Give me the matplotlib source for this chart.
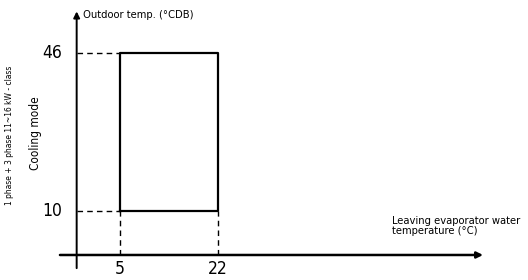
import matplotlib.pyplot as plt

plt.rcParams['font.family'] = ['DejaVu Sans']
plt.rcParams['font.stretch'] = 'condensed'

# operating range (cooling mode)
water_range = [5, 22]      # leaving evaporator water temp, °C
outdoor_range = [10, 46]   # outdoor temp, °CDB
x_ticks = [5, 22]
y_ticks = [10, 46]

fig = plt.figure(figsize=(5.28, 2.8), dpi=100)
ax = fig.add_axes([0, 0, 1, 1])
ax.set_xlim(-15.8, 75.8)
ax.set_ylim(-5.7, 58.1)
ax.axis('off')

yax = -2.5  # where the (schematic) y axis sits

# axes with arrows
ax.annotate('', xy=(68, 0), xytext=(-5.4, 0),
            arrowprops=dict(arrowstyle='-|>', lw=1.8, color='black',
                            mutation_scale=9, shrinkA=0, shrinkB=0))
ax.annotate('', xy=(yax, 55.5), xytext=(yax, -3),
            arrowprops=dict(arrowstyle='-|>', lw=1.4, color='black',
                            mutation_scale=9, shrinkA=0, shrinkB=0))

# operating envelope
x0, x1 = water_range
y0, y1 = outdoor_range
ax.plot([x0, x1, x1, x0, x0], [y0, y0, y1, y1, y0], color='black', lw=1.6)

# dashed guide lines
for yv in y_ticks:
    ax.plot([yax, x0], [yv, yv], color='black', lw=1, ls=(0, (4, 3)))
for xv in x_ticks:
    ax.plot([xv, xv], [0, y0], color='black', lw=1, ls=(0, (4, 3)))

# tick labels
for yv in y_ticks:
    ax.text(-6.8, yv, str(yv), ha='center', va='center', fontsize=12.5)
for xv in x_ticks:
    ax.text(xv, -3.3, str(xv), ha='center', va='center', fontsize=12.5)

# axis titles
ax.text(-1.4, 54.7, 'Outdoor temp. (°CDB)', ha='left', va='center', fontsize=8)
ax.text(52.2, 6.7, 'Leaving evaporator water\ntemperature (°C)',
        ha='left', va='center', fontsize=8, linespacing=1.0)
ax.text(-14.1, 27.3, '1 phase + 3 phase 11~16 kW - class', rotation=90,
        ha='center', va='center', fontsize=6)
ax.text(-9.7, 27.8, 'Cooling mode', rotation=90,
        ha='center', va='center', fontsize=8.5)

fig.savefig('out.png', dpi=100)
